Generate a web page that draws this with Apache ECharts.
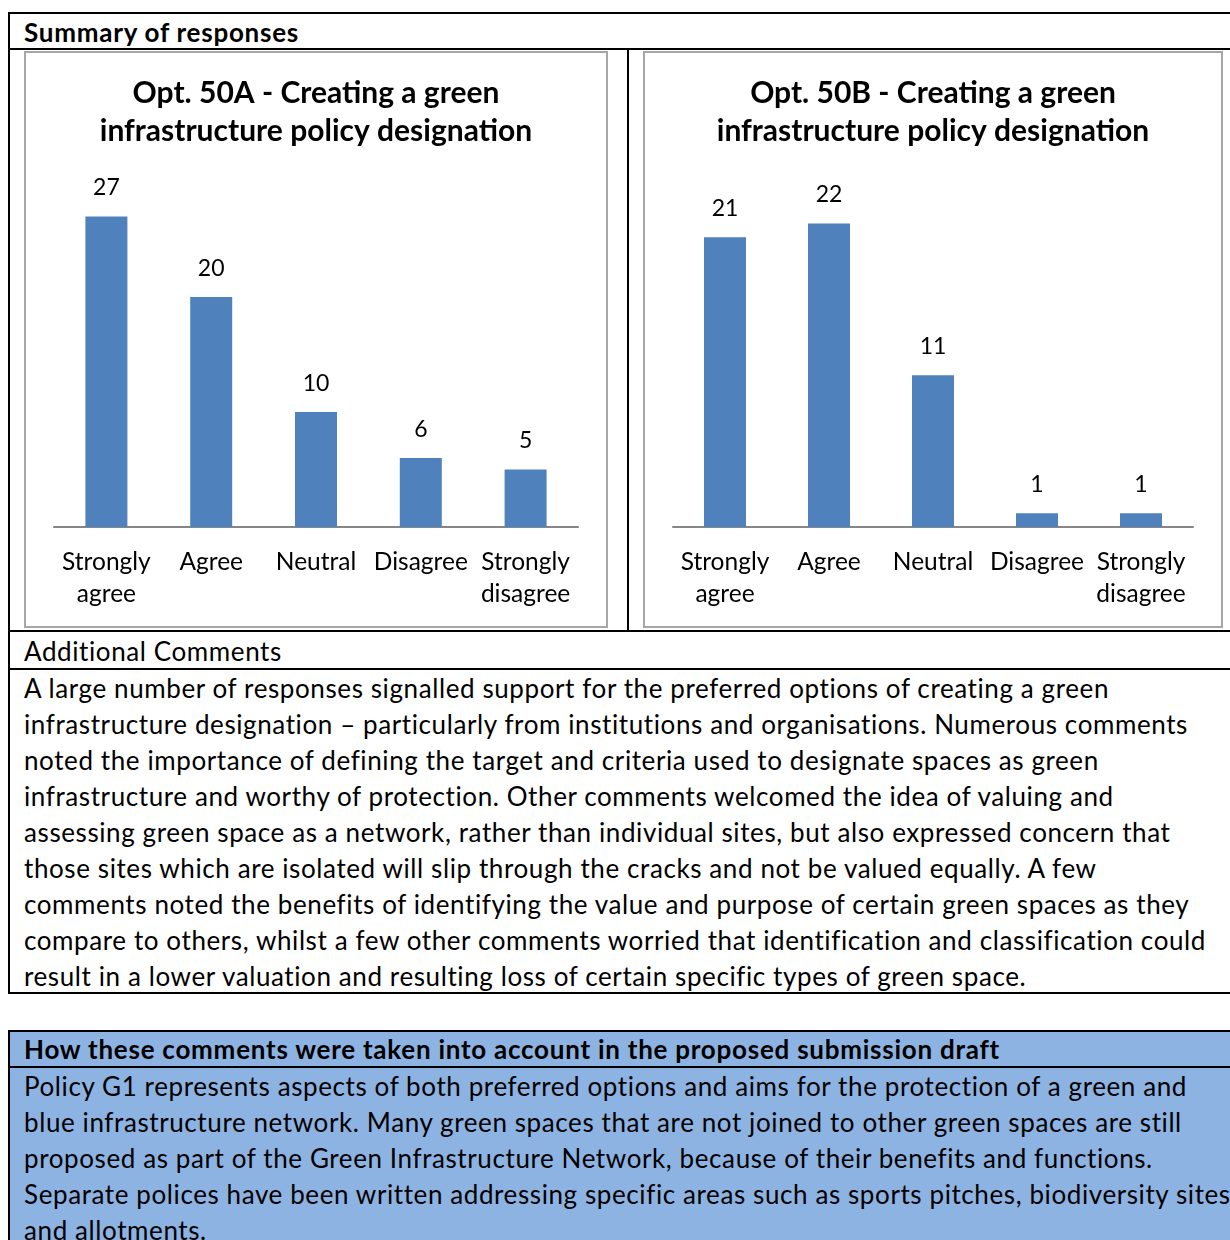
<!DOCTYPE html>
<html>
<head>
<meta charset="utf-8">
<script src="https://cdn.jsdelivr.net/npm/echarts@6/dist/echarts.min.js"></script>
<style>
  body { margin: 0; width: 1230px; height: 1240px; overflow: hidden; position: relative; background: #fff;
         font-family: Lato, "Noto Sans", sans-serif; color: #000; }
  .hl { position: absolute; height: 2px; background: #000; }
  .vl { position: absolute; width: 2px; background: #000; }
  .txt { position: absolute; left: 24px; white-space: nowrap; font-size: 26px; line-height: 36px; letter-spacing: 0.6px; }
  .bold { font-weight: bold; letter-spacing: 0.75px; }
  .chart { position: absolute; top: 51px; height: 577px; border: 2px solid #a6a6a6; box-sizing: border-box; background: #fff; }
</style>
</head>
<body>
  <!-- table 1 -->
  <div class="hl" style="left:8px;top:12px;width:1230px"></div>
  <div class="vl" style="left:8px;top:12px;height:982px"></div>
  <div class="txt bold" style="top:14px">Summary of responses</div>
  <div class="hl" style="left:8px;top:48px;width:1230px"></div>
  <div class="vl" style="left:627px;top:48px;height:584px"></div>
  <div class="chart" id="chartA" style="left:24px;width:584px"></div>
  <div class="chart" id="chartB" style="left:643px;width:580px"></div>
  <div class="hl" style="left:8px;top:630px;width:1230px"></div>
  <div class="txt" style="top:633px">Additional Comments</div>
  <div class="hl" style="left:8px;top:668px;width:1230px"></div>
  <div class="txt" style="top:670px">
    A large number of responses signalled support for the preferred options of creating a green<br>
    infrastructure designation – particularly from institutions and organisations. Numerous comments<br>
    noted the importance of defining the target and criteria used to designate spaces as green<br>
    infrastructure and worthy of protection. Other comments welcomed the idea of valuing and<br>
    assessing green space as a network, rather than individual sites, but also expressed concern that<br>
    those sites which are isolated will slip through the cracks and not be valued equally. A few<br>
    comments noted the benefits of identifying the value and purpose of certain green spaces as they<br>
    compare to others, whilst a few other comments worried that identification and classification could<br>
    result in a lower valuation and resulting loss of certain specific types of green space.
  </div>
  <div class="hl" style="left:8px;top:992px;width:1230px"></div>

  <!-- table 2 -->
  <div style="position:absolute;left:10px;top:1032px;width:1230px;height:220px;background:#8db3e2"></div>
  <div class="hl" style="left:8px;top:1030px;width:1230px"></div>
  <div class="vl" style="left:8px;top:1030px;height:220px"></div>
  <div class="txt bold" style="top:1031px">How these comments were taken into account in the proposed submission draft</div>
  <div class="hl" style="left:8px;top:1066px;width:1230px"></div>
  <div class="txt" style="top:1068px">
    Policy G1 represents aspects of both preferred options and aims for the protection of a green and<br>
    blue infrastructure network. Many green spaces that are not joined to other green spaces are still<br>
    proposed as part of the Green Infrastructure Network, because of their benefits and functions.<br>
    Separate polices have been written addressing specific areas such as sports pitches, biodiversity sites<br>
    and allotments.
  </div>

<script>
  var categories = ["Strongly\nagree", "Agree", "Neutral", "Disagree", "Strongly\ndisagree"];
  var titleA = "Opt. 50A - Creating a green\ninfrastructure policy designation";
  var titleB = "Opt. 50B - Creating a green\ninfrastructure policy designation";
  var valuesA = [27, 20, 10, 6, 5];
  var valuesB = [21, 22, 11, 1, 1];
  var maxA = 30;
  var maxB = 25;

  var font = "Lato, 'Noto Sans', sans-serif";

  function makeOption(title, values, max) {
    return {
      animation: false,
      textStyle: { fontFamily: font },
      title: {
        text: title,
        left: "center",
        top: 16,
        textStyle: { fontSize: 30, fontWeight: "bold", color: "#000", lineHeight: 38, fontFamily: font }
      },
      grid: { left: 28, right: 28, top: 129, bottom: 99 },
      xAxis: {
        type: "category",
        data: categories,
        axisLine: { lineStyle: { color: "#868686", width: 2 } },
        axisTick: { show: false },
        axisLabel: { color: "#000", fontSize: 24.5, lineHeight: 32, margin: 19, interval: 0, fontFamily: font }
      },
      yAxis: {
        type: "value",
        min: 0,
        max: max,
        show: false,
        splitLine: { show: false }
      },
      series: [{
        type: "bar",
        data: values,
        barWidth: 42,
        itemStyle: { color: "#4f81bd" },
        label: { show: true, position: "top", distance: 17, color: "#000", fontSize: 23, fontFamily: font }
      }]
    };
  }

  var chartA = echarts.init(document.getElementById("chartA"));
  chartA.setOption(makeOption(titleA, valuesA, maxA));
  var chartB = echarts.init(document.getElementById("chartB"));
  chartB.setOption(makeOption(titleB, valuesB, maxB));
</script>
</body>
</html>
